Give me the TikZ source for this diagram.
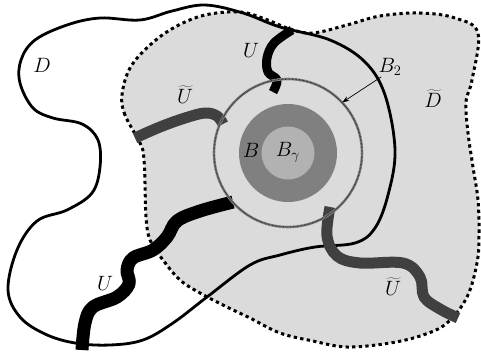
\documentclass[tikz,border=0pt]{standalone}
\usetikzlibrary{arrows.meta}
\begin{document}
\begin{tikzpicture}[x=1pt,y=-1pt,
  lbl/.style={inner sep=0pt, font=\fontsize{22}{26}\selectfont},
  stripblack/.style={line width=10pt, draw=black, line cap=butt, line join=round},
  stripgray/.style={line width=11pt, draw=black!75, line cap=butt, line join=round},
  domainD/.style={line width=2.8pt, draw=black},
  domainDt/.style={line width=3pt, draw=black, dash pattern=on 3.3pt off 3.3pt, fill=black!14},
  ringstyle/.style={circle, minimum size=148pt, inner sep=0pt}]
\useasboundingbox (0,0) rectangle (481,354);
\fill[white] (0,0) rectangle (481,354);
% domain D tilde
\path[domainDt] plot[smooth cycle, tension=0.6] coordinates {
 (141,145) (125,115) (122,95) (130,68) (150,45) (175,27) (205,15) (240,12)
 (265,19) (290,29) (313,33) (347,25) (380,16) (420,13) (455,18) (478,33)
 (472,80) (466,102) (468,133) (473,167) (478,200) (479,235) (477,263)
 (467,297) (447,323) (423,335) (390,343) (347,347) (313,341) (280,333)
 (250,318) (227,307) (200,293) (180,280) (163,260) (150,240) (146,217)
 (145,183) (144,160)};
% discs
\node[ringstyle] (ring) at (288,153) {};
\fill[black!50] (ring.center) circle (49);
\fill[black!30] (ring.center) circle (26.5);
% domain D
\path[domainD] plot[smooth cycle, tension=0.6] coordinates {
 (205,5) (243,13) (280,27) (330,40) (365,62) (385,95) (395,150) (388,195)
 (375,228) (355,243) (315,247) (280,255) (250,265) (207,297) (173,323)
 (143,340) (110,345) (75,343) (45,334) (20,317) (8,290) (17,250) (37,221)
 (67,210) (92,193) (100,167) (98,140) (82,124) (53,118) (33,108) (20,83)
 (21,60) (35,40) (67,25) (100,18) (140,20) (172,11)};
% strips
\draw[stripblack, line width=9pt] plot[smooth, tension=0.6] coordinates {
 (292,30) (274,43) (267,58) (268,72) (277,80) (273,92)};
\draw[stripgray] plot[smooth, tension=0.6] coordinates {
 (135,138) (160,127) (185,118) (205,113) (217,116) (223,124)};
\draw[stripblack, line width=13pt] plot[smooth, tension=0.6] coordinates {
 (233,202) (200,211) (177,221) (167,237) (153,250) (133,258) (127,270)
 (129,284) (117,297) (93,307) (85,323) (82,350)};
\draw[stripgray] plot[smooth, tension=0.6] coordinates {
 (330,207) (327,236) (337,256) (360,263) (403,263) (420,277) (424,297)
 (440,309) (458,318)};
% ring
\draw[black!45, line width=2.6pt] (ring.center) circle (74);
\draw[black!80, line width=1.4pt, dash pattern=on 0.7pt off 0.7pt] (ring.center) circle (74);
% labels
\node[lbl] (lD) at (42,65) {$D$};
\node[lbl] (lUt1) at (185,95) {$\widetilde{U}$};
\node[lbl] (lU1) at (251,50) {$U$};
\node[lbl] (lB) at (251,150) {$B$};
\node[lbl] (lBg) at (288,152) {$B_\gamma$};
\node[lbl] (lB2) at (390,67) {$B_2$};
\node[lbl] (lDt) at (433,99) {$\widetilde{D}$};
\node[lbl] (lU2) at (105,283) {$U$};
\node[lbl] (lUt2) at (393,287) {$\widetilde{U}$};
\draw[-{Stealth[length=7pt,width=5pt]}, line width=0.7pt] (lB2.south west) ++(3,1) coordinate (b2tail) (b2tail) -- (ring.43);
\end{tikzpicture}
\end{document}
